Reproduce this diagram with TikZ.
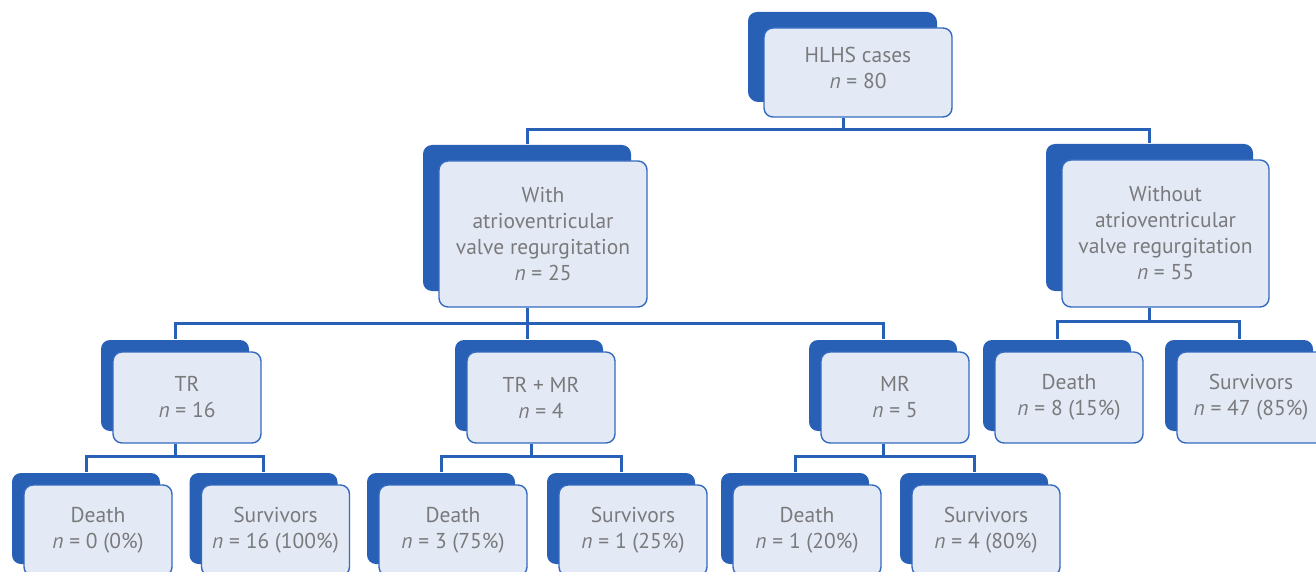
\documentclass[tikz,border=0pt]{standalone}
\usepackage{fontspec}
\setmainfont{PT Sans}
\usetikzlibrary{shadows}
\definecolor{shad}{RGB}{40,96,182}
\definecolor{boxfill}{RGB}{228,234,245}
\definecolor{boxline}{RGB}{52,106,192}
\definecolor{txt}{RGB}{122,122,125}
\tikzset{
 box/.style={draw=boxline, line width=1.4pt, fill=boxfill, rounded corners=9pt, align=center, text=txt, font=\fontsize{21.5}{26}\selectfont, inner sep=0pt},
 bigbox/.style={box, copy shadow={shadow xshift=-16pt, shadow yshift=16pt, fill=shad, draw=none}},
 smallbox/.style={box, minimum width=148pt, minimum height=91pt, copy shadow={shadow xshift=-12pt, shadow yshift=12pt, fill=shad, draw=none}},
 link/.style={draw=shad, line width=3pt}
}
\begin{document}
\begin{tikzpicture}[x=1pt,y=-1pt]
\clip (0,0) rectangle (1316,572);
\fill[white] (0,0) rectangle (1316,572);
\coordinate (b1) at (0,130);
\coordinate (b2) at (0,323);
\coordinate (b2r) at (0,321);
\coordinate (b3) at (0,456);

\node[bigbox, copy shadow={shadow xshift=-15pt, shadow yshift=15pt, fill=shad, draw=none}, minimum width=188pt, minimum height=89pt] (top) at (858,72.5) {HLHS cases\\\textit{n} = 80\\[-16pt]};
\node[bigbox, minimum width=208pt, minimum height=146pt] (with) at (543,234) {With\\atrioventricular\\valve regurgitation\\\textit{n} = 25};
\node[bigbox, minimum width=207pt, minimum height=147pt] (without) at (1165.5,233.5) {Without\\atrioventricular\\valve regurgitation\\\textit{n} = 55};

\node[smallbox] (tr) at (187,397.5) {TR\\\textit{n} = 16};
\node[smallbox] (trmr) at (541,397.5) {TR + MR\\\textit{n} = 4};
\node[smallbox] (mr) at (895,397.5) {MR\\\textit{n} = 5};
\node[smallbox] (d8) at (1069,397.5) {Death\\\textit{n} = 8 (15\%)};
\node[smallbox] (s47) at (1251,397.5) {Survivors\\\textit{n} = 47 (85\%)};

\node[smallbox] (d0) at (98,530.5) {Death\\\textit{n} = 0 (0\%)};
\node[smallbox] (s16) at (275.5,530.5) {Survivors\\\textit{n} = 16 (100\%)};
\node[smallbox] (d3) at (453,530.5) {Death\\\textit{n} = 3 (75\%)};
\node[smallbox] (s1) at (633,530.5) {Survivors\\\textit{n} = 1 (25\%)};
\node[smallbox] (d1) at (807,530.5) {Death\\\textit{n} = 1 (20\%)};
\node[smallbox] (s4) at (986,530.5) {Survivors\\\textit{n} = 4 (80\%)};

% level 1 -> 2
\draw[link] ([xshift=-15pt]top.south) -- ([xshift=-15pt]top.south |- b1);
\draw[link] ([xshift=-16pt,yshift=16pt]with.north) |- ([xshift=-16pt]without.north |- b1) -- ([xshift=-16pt,yshift=16pt]without.north);
% with -> level 3
\draw[link] ([xshift=-16pt]with.south) -- ([xshift=-16pt]with.south |- b2) -- ([xshift=-16pt,yshift=12pt]with.south |- trmr.north);
\draw[link] ([xshift=-12pt,yshift=12pt]tr.north) |- ([xshift=-12pt]mr.north |- b2) -- ([xshift=-12pt,yshift=12pt]mr.north);
% without -> death/survivors
\draw[link] ([xshift=-16pt]without.south) -- ([xshift=-16pt]without.south |- b2r);
\draw[link] ([xshift=-12pt,yshift=12pt]d8.north) |- ([xshift=-12pt]s47.north |- b2r) -- ([xshift=-12pt,yshift=12pt]s47.north);
% level 3 -> 4
\draw[link] ([xshift=-12pt]tr.south) -- ([xshift=-12pt]tr.south |- b3);
\draw[link] ([xshift=-12pt,yshift=12pt]d0.north) |- ([xshift=-12pt]s16.north |- b3) -- ([xshift=-12pt,yshift=12pt]s16.north);
\draw[link] ([xshift=-10pt]trmr.south) -- ([xshift=-10pt]trmr.south |- b3);
\draw[link] ([xshift=-12pt,yshift=12pt]d3.north) |- ([xshift=-12pt]s1.north |- b3) -- ([xshift=-12pt,yshift=12pt]s1.north);
\draw[link] ([xshift=-12pt]mr.south) -- ([xshift=-12pt]mr.south |- b3);
\draw[link] ([xshift=-12pt,yshift=12pt]d1.north) |- ([xshift=-12pt]s4.north |- b3) -- ([xshift=-12pt,yshift=12pt]s4.north);
\end{tikzpicture}
\end{document}
